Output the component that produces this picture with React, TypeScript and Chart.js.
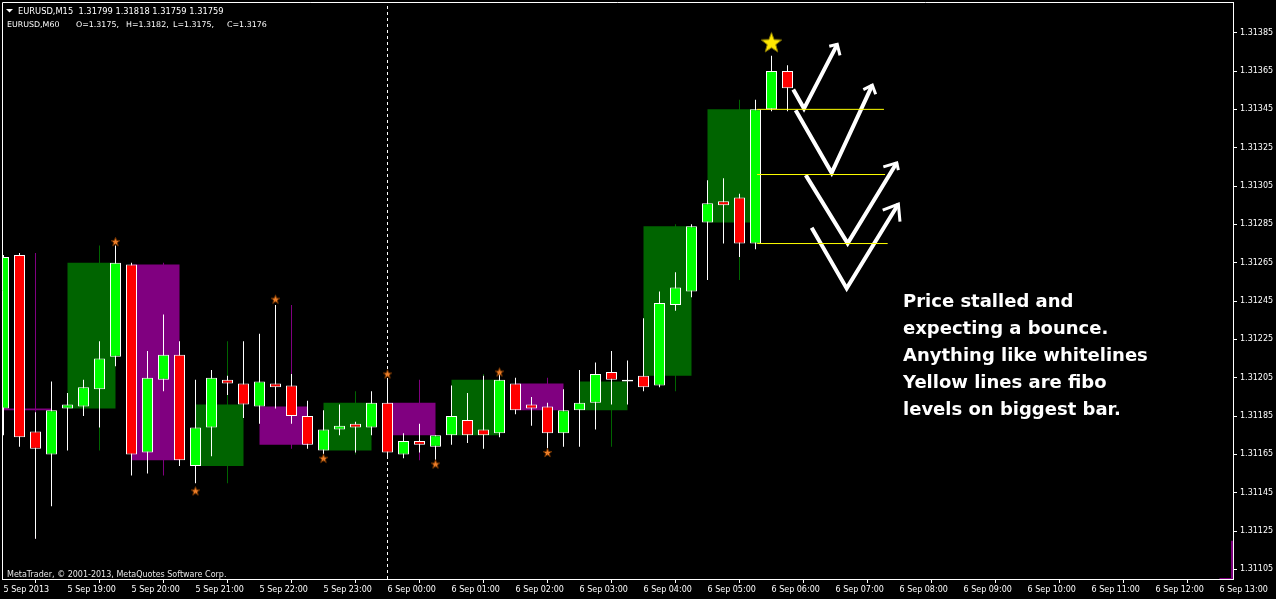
import React, { useEffect, useRef } from 'react';
import { Chart, registerables } from 'chart.js';

Chart.register(...registerables);

// ---- M15 EURUSD bars (index 0 = 5 Sep 18:00, 15 minutes per bar) ----
const opens = [
  1.31189, 1.31269, 1.31177, 1.31165, 1.31189, 1.31190, 1.31199, 1.31216, 1.31264, 1.31166,
  1.31204, 1.31217, 1.31159, 1.31179, 1.31204, 1.31202, 1.31190, 1.31202, 1.31201, 1.31185,
  1.31167, 1.31178, 1.31181, 1.31179, 1.31192, 1.31165, 1.31172, 1.31169, 1.31175, 1.31183,
  1.31178, 1.31176, 1.31202, 1.31191, 1.31190, 1.31176, 1.31188, 1.31192, 1.31208, 1.31204,
  1.31206, 1.31201, 1.31243, 1.31250, 1.31286, 1.31297, 1.31299, 1.31275, 1.31345, 1.31365,
];
const highs = [
  1.31269, 1.31270, 1.31187, 1.31203, 1.31197, 1.31204, 1.31224, 1.31274, 1.31265, 1.31219,
  1.31238, 1.31224, 1.31204, 1.31209, 1.31206, 1.31224, 1.31228, 1.31243, 1.31207, 1.31193,
  1.31188, 1.31191, 1.31182, 1.31198, 1.31204, 1.31176, 1.31181, 1.31175, 1.31201, 1.31197,
  1.31206, 1.31207, 1.31205, 1.31195, 1.31192, 1.31199, 1.31209, 1.31213, 1.31219, 1.31214,
  1.31236, 1.31250, 1.31260, 1.31285, 1.31308, 1.31309, 1.31301, 1.31350, 1.31373, 1.31368,
];
const lows = [
  1.31175, 1.31169, 1.31121, 1.31138, 1.31167, 1.31185, 1.31179, 1.31211, 1.31154, 1.31155,
  1.31198, 1.31159, 1.31150, 1.31164, 1.31196, 1.31184, 1.31181, 1.31189, 1.31181, 1.31168,
  1.31165, 1.31175, 1.31166, 1.31175, 1.31164, 1.31163, 1.31166, 1.31162, 1.31170, 1.31171,
  1.31168, 1.31174, 1.31186, 1.31180, 1.31168, 1.31169, 1.31169, 1.31178, 1.31191, 1.31191,
  1.31198, 1.31200, 1.31240, 1.31247, 1.31256, 1.31275, 1.31268, 1.31272, 1.31344, 1.31344,
];
const closes = [
  1.31268, 1.31174, 1.31168, 1.31188, 1.31191, 1.31200, 1.31215, 1.31265, 1.31165, 1.31205,
  1.31217, 1.31162, 1.31179, 1.31205, 1.31202, 1.31191, 1.31203, 1.31200, 1.31185, 1.31170,
  1.31178, 1.31180, 1.31179, 1.31192, 1.31166, 1.31172, 1.31170, 1.31175, 1.31185, 1.31175,
  1.31175, 1.31204, 1.31188, 1.31189, 1.31176, 1.31188, 1.31192, 1.31207, 1.31204, 1.31203,
  1.31200, 1.31244, 1.31252, 1.31284, 1.31296, 1.31295, 1.31275, 1.31345, 1.31365, 1.31356,
];

// ---- axes ----
const priceTicks = [
  1.31105, 1.31125, 1.31145, 1.31165, 1.31185, 1.31205, 1.31225, 1.31245,
  1.31265, 1.31285, 1.31305, 1.31325, 1.31345, 1.31365, 1.31385,
];
const timeTickIndex = [0, 4, 8, 12, 16, 20, 24, 28, 32, 36, 40, 44, 48, 52, 56, 60, 64, 68, 72, 76];
const timeLabels = [
  '5 Sep 2013', '5 Sep 19:00', '5 Sep 20:00', '5 Sep 21:00', '5 Sep 22:00', '5 Sep 23:00',
  '6 Sep 00:00', '6 Sep 01:00', '6 Sep 02:00', '6 Sep 03:00', '6 Sep 04:00', '6 Sep 05:00',
  '6 Sep 06:00', '6 Sep 07:00', '6 Sep 08:00', '6 Sep 09:00', '6 Sep 10:00', '6 Sep 11:00',
  '6 Sep 12:00', '6 Sep 13:00',
];
const priceMin = 1.311;
const priceMax = 1.31401;
const indexMin = -0.09375;
const indexMax = 76.84375;
const dayBreakIndex = 24;

// ---- markers ----
const fractalUpBars = [7, 17, 24, 31];
const fractalUpPrices = [1.31276, 1.31246, 1.31207, 1.31208];
const fractalDownBars = [12, 20, 27, 34];
const fractalDownPrices = [1.31146, 1.31163, 1.3116, 1.31166];
const signalStarBar = [48];
const signalStarPrice = [1.3138];

// ---- fibo levels on the biggest bar ----
const fiboLevels = [1.31345, 1.31311, 1.31275];
const fiboStart = [47.1, 47.1, 47.1];
const fiboEnd = [55.03, 55.1, 55.26];

// ---- hand drawn white arrows (bar index, price) ----
const arrowShafts = [
  [[49.36, 1.313553], [50.03, 1.313454], [52.11, 1.313789]],
  [[49.51, 1.313445], [51.76, 1.313119], [54.3, 1.313576]],
  [[50.14, 1.313107], [52.76, 1.312751], [55.83, 1.313171]],
  [[50.51, 1.312832], [52.7, 1.312516], [55.93, 1.312956]],
];
const arrowHeads = [
  [[51.61, 1.313779], [52.11, 1.313789], [52.28, 1.313732]],
  [[53.74, 1.313553], [54.3, 1.313576], [54.51, 1.313529]],
  [[54.99, 1.31315], [55.83, 1.313171], [55.93, 1.313133]],
  [[54.95, 1.312924], [55.93, 1.312956], [56.03, 1.312864]],
];

// ---- purple box edge at the far right ----
const edgeBox = [[76, 1.311], [76.78, 1.311], [76.78, 1.3112]];

const BULL = '#00ff00';
const BEAR = '#ff0000';
const H1_BULL = '#006400';
const H1_BEAR = '#800080';

function makeStar(size: number, fill: string, stroke: string) {
  const c = document.createElement('canvas');
  c.width = size;
  c.height = size;
  const g = c.getContext('2d')!;
  const cx = size / 2;
  const cy = size / 2 + size * 0.04;
  const R = size / 2 - 0.8;
  const r = R * 0.42;
  g.beginPath();
  for (let k = 0; k < 10; k++) {
    const a = -Math.PI / 2 + (k * Math.PI) / 5;
    const rr = k % 2 === 0 ? R : r;
    g.lineTo(cx + rr * Math.cos(a), cy + rr * Math.sin(a));
  }
  g.closePath();
  g.fillStyle = fill;
  g.fill();
  g.strokeStyle = stroke;
  g.lineWidth = 1;
  g.stroke();
  return c;
}

const FONT = '"DejaVu Sans", "Liberation Sans", sans-serif';

const paintPlugin = {
  id: 'mtPaint',
  beforeDraw(chart: any) {
    const { ctx, width, height } = chart;
    ctx.save();
    ctx.fillStyle = '#000000';
    ctx.fillRect(0, 0, width, height);
    ctx.restore();
  },
  afterDraw(chart: any) {
    const { ctx, chartArea: a } = chart;
    ctx.save();
    ctx.strokeStyle = '#ffffff';
    ctx.lineWidth = 1;
    ctx.beginPath();
    ctx.moveTo(a.left + 0.5, a.bottom);
    ctx.lineTo(a.left + 0.5, a.top + 0.5);
    ctx.lineTo(a.right, a.top + 0.5);
    ctx.stroke();

    // header
    ctx.fillStyle = '#ffffff';
    ctx.beginPath();
    ctx.moveTo(6, 9);
    ctx.lineTo(13, 9);
    ctx.lineTo(9.5, 12.5);
    ctx.closePath();
    ctx.fill();
    ctx.font = `8.3px ${FONT}`;
    ctx.textBaseline = 'alphabetic';
    ctx.textAlign = 'left';
    ctx.fillText('EURUSD,M15  1.31799 1.31818 1.31759 1.31759', 18, 14);
    ctx.font = `7.9px ${FONT}`;
    ctx.fillText('EURUSD,M60', 7, 27);
    ctx.fillText('O=1.3175,', 76, 27);
    ctx.fillText('H=1.3182,', 126, 27);
    ctx.fillText('L=1.3175,', 173, 27);
    ctx.fillText('C=1.3176', 227, 27);

    ctx.fillStyle = '#e6e6e6';
    ctx.font = `8px ${FONT}`;
    ctx.fillText('MetaTrader, © 2001-2013, MetaQuotes Software Corp.', 7, 577);

    // annotation
    ctx.fillStyle = '#ffffff';
    ctx.font = `bold 18px ${FONT}`;
    const lines = [
      'Price stalled and',
      'expecting a bounce.',
      'Anything like whitelines',
      'Yellow lines are fibo',
      'levels on biggest bar.',
    ];
    lines.forEach((t, k) => ctx.fillText(t, 903, 307 + k * 27));
    ctx.restore();
  },
};

export default function App() {
  const ref = useRef<HTMLCanvasElement>(null);

  useEffect(() => {
    document.body.style.margin = '0';
    document.body.style.background = '#000';
    const canvas = ref.current;
    if (!canvas) return;

    const n = opens.length;
    const idx = opens.map((_, i) => i);
    const bodyData = idx.map((i) => ({ x: i, y: [opens[i], closes[i]] }));
    const bodyColors = idx.map((i) => (closes[i] >= opens[i] ? BULL : BEAR));
    const wickData = idx.map((i) => ({ x: i, y: [lows[i], highs[i]] }));

    // hourly bars aggregated from the M15 bars (complete hours only)
    const h1Box: any[] = [];
    const h1Wick: any[] = [];
    const h1Colors: string[] = [];
    for (let s = 0; s + 3 < n; s += 4) {
      const o = opens[s];
      const c = closes[s + 3];
      const h = Math.max(...highs.slice(s, s + 4));
      const l = Math.min(...lows.slice(s, s + 4));
      h1Box.push({ x: s + 1.5, y: [o, c] });
      h1Wick.push({ x: s + 2, y: [l, h] });
      h1Colors.push(c > o ? H1_BULL : H1_BEAR);
    }

    const fractalStar = makeStar(11, '#f0802a', '#6a3000');
    const goldStar = makeStar(23, '#ffe600', '#8a7a00');

    const lineBase = {
      type: 'line',
      pointRadius: 0,
      tension: 0,
      fill: false,
      spanGaps: true,
    };

    const datasets: any[] = [
      ...fiboLevels.map((lvl, k) => ({
        ...lineBase,
        order: 0,
        data: [
          { x: fiboStart[k], y: lvl },
          { x: fiboEnd[k], y: lvl },
        ],
        borderColor: '#ffff00',
        backgroundColor: '#ffff00',
        borderWidth: 1,
      })),
      ...arrowShafts.map((pts) => ({
        ...lineBase,
        order: 0,
        data: pts.map(([x, y]) => ({ x, y })),
        borderColor: '#ffffff',
        borderWidth: 4,
        borderJoinStyle: 'miter',
        borderCapStyle: 'butt',
      })),
      ...arrowHeads.map((pts) => ({
        ...lineBase,
        order: 0,
        data: pts.map(([x, y]) => ({ x, y })),
        borderColor: '#ffffff',
        borderWidth: 3,
        borderJoinStyle: 'miter',
        borderCapStyle: 'butt',
      })),
      {
        ...lineBase,
        order: 0,
        showLine: false,
        data: fractalUpBars.map((b, k) => ({ x: b, y: fractalUpPrices[k] })),
        pointStyle: fractalStar,
        pointRadius: 5,
      },
      {
        ...lineBase,
        order: 0,
        showLine: false,
        data: fractalDownBars.map((b, k) => ({ x: b, y: fractalDownPrices[k] })),
        pointStyle: fractalStar,
        pointRadius: 5,
      },
      {
        ...lineBase,
        order: 0,
        showLine: false,
        data: signalStarBar.map((b, k) => ({ x: b, y: signalStarPrice[k] })),
        pointStyle: goldStar,
        pointRadius: 10,
      },
      {
        type: 'bar',
        order: 1,
        grouped: false,
        data: bodyData,
        backgroundColor: bodyColors,
        borderColor: '#ffffff',
        borderWidth: 1,
        borderSkipped: false,
        barThickness: 11,
        inflateAmount: 0,
      },
      {
        type: 'bar',
        order: 2,
        grouped: false,
        data: wickData,
        backgroundColor: '#ffffff',
        borderWidth: 0,
        barThickness: 1,
        inflateAmount: 0,
      },
      {
        type: 'bar',
        order: 3,
        grouped: false,
        data: h1Wick,
        backgroundColor: h1Colors,
        borderWidth: 0,
        barThickness: 1,
        inflateAmount: 0,
      },
      {
        type: 'bar',
        order: 4,
        grouped: false,
        data: h1Box,
        backgroundColor: h1Colors,
        borderWidth: 0,
        barThickness: 48,
        inflateAmount: 0,
      },
      {
        ...lineBase,
        order: 4,
        data: edgeBox.map(([x, y]) => ({ x, y })),
        borderColor: H1_BEAR,
        borderWidth: 2,
      },
      {
        ...lineBase,
        order: 5,
        data: [
          { x: dayBreakIndex, y: priceMin },
          { x: dayBreakIndex, y: priceMax },
        ],
        borderColor: '#ffffff',
        borderWidth: 1,
        borderDash: [3, 3],
      },
    ];

    const tickFont = { family: FONT, size: 8 };

    const chart = new Chart(canvas, {
      type: 'bar',
      data: { datasets },
      plugins: [paintPlugin],
      options: {
        animation: false,
        responsive: false,
        devicePixelRatio: 1,
        events: [],
        layout: { autoPadding: false, padding: { left: 2, top: 2, right: 0, bottom: 0 } },
        plugins: {
          legend: { display: false },
          tooltip: { enabled: false },
          title: { display: false },
        },
        scales: {
          x: {
            type: 'linear',
            min: indexMin,
            max: indexMax,
            offset: false,
            afterBuildTicks: (s: any) => {
              s.ticks = timeTickIndex.map((v) => ({ value: v }));
            },
            afterFit: (s: any) => {
              s.height = 20;
              s.paddingLeft = 0;
              s.paddingRight = 0;
            },
            ticks: {
              autoSkip: false,
              maxRotation: 0,
              minRotation: 0,
              align: 'start',
              color: '#ffffff',
              font: tickFont,
              padding: 2,
              callback: (_v: any, i: number) => timeLabels[i],
            },
            grid: { drawOnChartArea: false, drawTicks: true, tickLength: 4, color: '#ffffff' },
            border: { display: true, color: '#ffffff', width: 1 },
          },
          y: {
            type: 'linear',
            position: 'right',
            min: priceMin,
            max: priceMax,
            afterBuildTicks: (s: any) => {
              s.ticks = priceTicks.map((v) => ({ value: v }));
            },
            afterFit: (s: any) => {
              s.width = 43;
              s.paddingTop = 0;
              s.paddingBottom = 0;
            },
            ticks: {
              color: '#ffffff',
              font: tickFont,
              padding: 3,
              callback: (v: any) => Number(v).toFixed(5),
            },
            grid: { drawOnChartArea: false, drawTicks: true, tickLength: 4, color: '#ffffff' },
            border: { display: true, color: '#ffffff', width: 1 },
          },
        },
      } as any,
    } as any);

    return () => chart.destroy();
  }, []);

  return (
    <canvas
      ref={ref}
      width={1276}
      height={599}
      style={{ display: 'block', width: 1276, height: 599 }}
    />
  );
}
